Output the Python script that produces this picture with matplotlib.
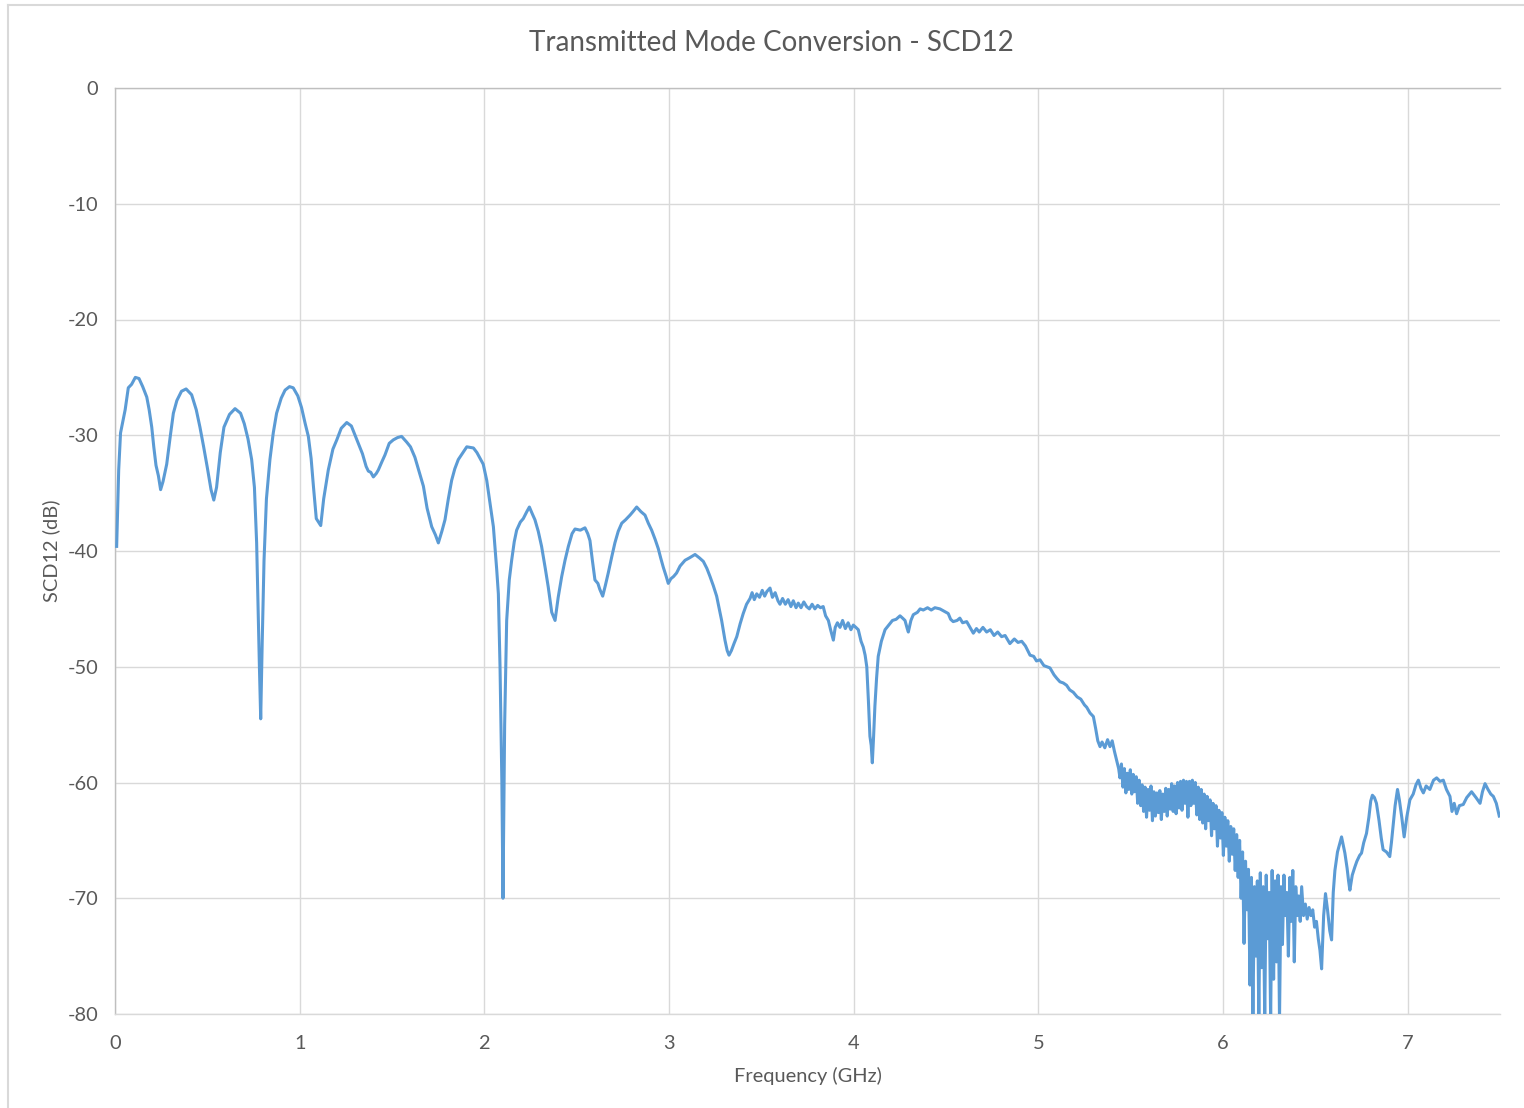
import matplotlib
matplotlib.use("Agg")
import matplotlib.pyplot as plt
from matplotlib.lines import Line2D
import numpy as np

plt.rcParams['font.family'] = ['Lato', 'DejaVu Sans']
plt.rcParams['axes.unicode_minus'] = False

title = "Transmitted Mode Conversion - SCD12"
x_label = "Frequency (GHz)"
y_label = "SCD12 (dB)"
x_ticks = [0, 1, 2, 3, 4, 5, 6, 7]
y_ticks = [0, -10, -20, -30, -40, -50, -60, -70, -80]

# Low band: resonant ripples 0 - 3.44 GHz
freq_low = [0.009, 0.020, 0.030, 0.040, 0.055, 0.072, 0.090, 0.110, 0.130, 0.150,
            0.172, 0.185, 0.199, 0.210, 0.222, 0.235, 0.247, 0.260, 0.280, 0.300,
            0.316, 0.335, 0.360, 0.385, 0.415, 0.440, 0.460, 0.480, 0.500, 0.520,
            0.535, 0.550, 0.570, 0.590, 0.620, 0.650, 0.680, 0.700, 0.720, 0.740,
            0.755, 0.767, 0.775, 0.782, 0.789, 0.797, 0.807, 0.820, 0.839, 0.857,
            0.875, 0.900, 0.921, 0.945, 0.965, 0.990, 1.010, 1.030, 1.047, 1.062,
            1.075, 1.090, 1.114, 1.130, 1.155, 1.180, 1.201, 1.225, 1.255, 1.280,
            1.300, 1.320, 1.340, 1.360, 1.372, 1.385, 1.399, 1.415, 1.426, 1.445,
            1.462, 1.485, 1.507, 1.530, 1.552, 1.580, 1.600, 1.624, 1.648, 1.670,
            1.690, 1.715, 1.735, 1.751, 1.770, 1.787, 1.805, 1.823, 1.840, 1.859,
            1.880, 1.905, 1.941, 1.960, 1.977, 1.994, 2.013, 2.031, 2.049, 2.067,
            2.076, 2.085, 2.095, 2.101, 2.110, 2.121, 2.135, 2.148, 2.162, 2.175,
            2.195, 2.211, 2.230, 2.244, 2.260, 2.274, 2.292, 2.310, 2.330, 2.346,
            2.365, 2.383, 2.400, 2.419, 2.437, 2.455, 2.475, 2.491, 2.520, 2.545,
            2.560, 2.572, 2.585, 2.599, 2.615, 2.625, 2.641, 2.655, 2.671, 2.690,
            2.707, 2.725, 2.744, 2.765, 2.789, 2.805, 2.825, 2.848, 2.870, 2.888,
            2.906, 2.925, 2.942, 2.955, 2.969, 2.985, 2.996, 3.010, 3.025, 3.041,
            3.060, 3.087, 3.110, 3.141, 3.165, 3.186, 3.205, 3.222, 3.240, 3.258,
            3.272, 3.285, 3.303, 3.315, 3.325, 3.338, 3.352, 3.367, 3.385, 3.402,
            3.420, 3.439]
db_low = [-39.6, -33.0, -29.8, -29.0, -27.8, -25.9, -25.6, -25.0, -25.1, -25.8,
          -26.7, -27.8, -29.3, -31.0, -32.6, -33.5, -34.7, -34.0, -32.5, -30.0,
          -28.1, -27.0, -26.2, -26.0, -26.5, -27.8, -29.3, -31.0, -32.8, -34.7,
          -35.6, -34.5, -31.5, -29.3, -28.2, -27.7, -28.1, -29.0, -30.3, -32.1,
          -34.5, -39.3, -45.0, -50.0, -54.5, -48.0, -40.8, -35.5, -32.1, -29.8,
          -28.1, -26.8, -26.1, -25.8, -25.9, -26.6, -27.6, -29.0, -30.1, -32.0,
          -34.5, -37.2, -37.8, -35.5, -33.0, -31.2, -30.4, -29.4, -28.9, -29.2,
          -30.0, -30.8, -31.6, -32.7, -33.1, -33.2, -33.6, -33.3, -33.0, -32.3,
          -31.7, -30.7, -30.4, -30.2, -30.1, -30.6, -31.0, -31.9, -33.2, -34.4,
          -36.3, -37.9, -38.6, -39.3, -38.3, -37.3, -35.5, -33.9, -32.9, -32.1,
          -31.6, -31.0, -31.1, -31.5, -32.0, -32.5, -33.9, -35.9, -37.9, -41.6,
          -43.7, -50.0, -60.0, -70.0, -55.0, -46.0, -42.5, -40.8, -39.2, -38.2,
          -37.5, -37.2, -36.6, -36.2, -36.8, -37.3, -38.3, -39.6, -41.5, -43.1,
          -45.3, -46.0, -44.0, -42.2, -40.8, -39.6, -38.5, -38.1, -38.2, -38.0,
          -38.5, -39.1, -40.8, -42.5, -42.8, -43.3, -43.9, -43.0, -41.9, -40.5,
          -39.3, -38.3, -37.6, -37.3, -36.9, -36.6, -36.2, -36.6, -36.9, -37.6,
          -38.2, -39.0, -39.8, -40.6, -41.4, -42.2, -42.8, -42.4, -42.2, -41.9,
          -41.3, -40.8, -40.6, -40.3, -40.6, -40.9, -41.5, -42.2, -43.0, -43.9,
          -45.0, -46.0, -47.7, -48.6, -49.0, -48.6, -48.0, -47.4, -46.3, -45.4,
          -44.6, -44.1]

# Mid band: 3.45 - 5.44 GHz
freq_mid = [3.450, 3.462, 3.475, 3.490, 3.505, 3.518, 3.530, 3.547, 3.560, 3.575,
            3.590, 3.601, 3.615, 3.630, 3.645, 3.660, 3.673, 3.688, 3.700, 3.715,
            3.730, 3.745, 3.760, 3.775, 3.790, 3.805, 3.820, 3.835, 3.848, 3.863,
            3.875, 3.890, 3.900, 3.912, 3.926, 3.940, 3.955, 3.970, 3.985, 3.998,
            4.012, 4.025, 4.040, 4.052, 4.062, 4.071, 4.080, 4.088, 4.095, 4.101,
            4.108, 4.115, 4.124, 4.133, 4.150, 4.170, 4.190, 4.210, 4.230, 4.251,
            4.265, 4.278, 4.290, 4.296, 4.310, 4.323, 4.345, 4.360, 4.377, 4.400,
            4.420, 4.440, 4.467, 4.490, 4.512, 4.525, 4.539, 4.560, 4.575, 4.590,
            4.612, 4.630, 4.648, 4.665, 4.680, 4.700, 4.720, 4.740, 4.760, 4.780,
            4.801, 4.820, 4.846, 4.870, 4.890, 4.910, 4.930, 4.955, 4.975, 4.990,
            5.009, 5.030, 5.063, 5.085, 5.100, 5.117, 5.135, 5.153, 5.170, 5.189,
            5.210, 5.230, 5.250, 5.262, 5.280, 5.298, 5.310, 5.322, 5.334, 5.345,
            5.360, 5.375, 5.388, 5.400, 5.412, 5.424, 5.435, 5.442]
db_mid = [-43.6, -44.2, -43.7, -44.0, -43.4, -43.9, -43.5, -43.2, -44.0, -43.6,
          -44.3, -44.6, -44.1, -44.6, -44.2, -44.8, -44.3, -44.9, -44.5, -44.9,
          -44.4, -44.8, -45.0, -44.6, -45.0, -44.7, -44.9, -44.8, -45.6, -46.0,
          -46.8, -47.7, -46.6, -46.2, -46.6, -46.0, -46.7, -46.2, -46.8, -46.4,
          -46.6, -46.8, -47.8, -48.3, -49.0, -50.0, -53.0, -56.0, -56.8, -58.3,
          -56.0, -53.4, -51.0, -49.1, -47.8, -46.8, -46.4, -46.0, -45.9, -45.6,
          -45.8, -46.0, -46.7, -47.0, -46.0, -45.5, -45.3, -45.0, -45.1, -44.9,
          -45.1, -44.9, -45.0, -45.2, -45.4, -45.9, -46.1, -46.0, -45.8, -46.2,
          -46.1, -46.6, -47.1, -46.7, -47.0, -46.6, -47.0, -46.8, -47.3, -47.0,
          -47.4, -47.3, -48.0, -47.6, -47.9, -47.8, -48.2, -49.0, -49.1, -49.5,
          -49.4, -49.9, -50.1, -50.7, -51.0, -51.3, -51.4, -51.6, -52.0, -52.2,
          -52.6, -52.8, -53.3, -53.5, -54.0, -54.3, -55.3, -56.4, -56.9, -56.5,
          -57.0, -56.3, -56.9, -56.4, -57.3, -58.1, -58.8, -59.6]

# High band: noisy 5.45 - 7.5 GHz
freq_high = [5.450, 5.458, 5.466, 5.474, 5.482, 5.490, 5.498, 5.506, 5.514, 5.522,
             5.530, 5.538, 5.546, 5.554, 5.562, 5.570, 5.578, 5.586, 5.594, 5.602,
             5.610, 5.618, 5.626, 5.634, 5.642, 5.650, 5.658, 5.666, 5.674, 5.682,
             5.690, 5.698, 5.706, 5.714, 5.722, 5.730, 5.738, 5.746, 5.754, 5.762,
             5.770, 5.778, 5.786, 5.794, 5.802, 5.810, 5.818, 5.826, 5.834, 5.842,
             5.850, 5.858, 5.866, 5.874, 5.882, 5.890, 5.898, 5.906, 5.914, 5.922,
             5.930, 5.938, 5.946, 5.954, 5.962, 5.970, 5.978, 5.986, 5.994, 6.002,
             6.010, 6.018, 6.026, 6.034, 6.042, 6.050, 6.058, 6.066, 6.074, 6.082,
             6.090, 6.098, 6.106, 6.114, 6.122, 6.130, 6.138, 6.146, 6.154, 6.162,
             6.170, 6.178, 6.186, 6.194, 6.202, 6.210, 6.218, 6.226, 6.234, 6.242,
             6.250, 6.258, 6.266, 6.274, 6.282, 6.290, 6.298, 6.306, 6.314, 6.322,
             6.330, 6.338, 6.346, 6.354, 6.362, 6.370, 6.378, 6.386, 6.394, 6.402,
             6.410, 6.418, 6.426, 6.436, 6.446, 6.456, 6.466, 6.476, 6.486, 6.496,
             6.506, 6.516, 6.525, 6.534, 6.545, 6.555, 6.566, 6.578, 6.588, 6.597,
             6.606, 6.620, 6.630, 6.642, 6.652, 6.660, 6.672, 6.680, 6.687, 6.700,
             6.714, 6.725, 6.740, 6.750, 6.762, 6.777, 6.790, 6.800, 6.809, 6.820,
             6.831, 6.845, 6.857, 6.867, 6.885, 6.903, 6.912, 6.921, 6.932, 6.945,
             6.955, 6.968, 6.981, 6.995, 7.012, 7.030, 7.045, 7.058, 7.072, 7.085,
             7.100, 7.120, 7.140, 7.157, 7.175, 7.193, 7.210, 7.229, 7.240, 7.252,
             7.265, 7.280, 7.301, 7.320, 7.346, 7.370, 7.392, 7.405, 7.419, 7.435,
             7.450, 7.464, 7.480, 7.496]
db_high = [-58.4, -60.4, -58.8, -60.9, -59.2, -60.6, -58.9, -61.0, -59.3, -60.8,
           -59.5, -61.8, -59.8, -62.0, -60.2, -62.5, -60.4, -63.0, -60.6, -62.4,
           -60.3, -63.3, -60.8, -62.9, -60.9, -62.6, -60.7, -63.2, -61.0, -62.5,
           -60.5, -62.9, -60.6, -62.3, -60.1, -62.5, -60.3, -62.7, -60.0, -62.2,
           -59.9, -62.4, -59.8, -61.8, -59.9, -63.0, -59.9, -62.0, -59.8, -61.8,
           -60.0, -62.8, -60.4, -63.2, -60.6, -63.5, -61.0, -64.0, -61.2, -63.3,
           -61.5, -64.6, -61.8, -64.0, -62.0, -65.5, -62.4, -64.8, -62.6, -66.3,
           -63.0, -65.5, -63.3, -66.8, -63.8, -66.2, -64.0, -67.6, -64.5, -68.2,
           -65.0, -70.0, -66.0, -73.9, -66.8, -71.0, -67.5, -77.5, -68.2, -80.5,
           -69.0, -75.0, -68.5, -80.5, -67.8, -76.0, -69.0, -80.5, -68.0, -73.5,
           -69.5, -80.5, -67.6, -77.0, -68.5, -75.5, -68.0, -80.5, -69.0, -74.0,
           -68.0, -71.5, -69.5, -75.0, -68.2, -72.0, -67.6, -75.5, -69.0, -71.5,
           -69.8, -72.0, -69.0, -71.5, -70.5, -71.8, -70.8, -71.5, -71.0, -72.5,
           -72.0, -73.5, -74.5, -76.1, -71.5, -69.6, -71.0, -72.8, -73.6, -69.5,
           -67.6, -66.0, -65.4, -64.7, -65.5, -66.1, -67.4, -68.5, -69.3, -68.0,
           -67.3, -66.8, -66.3, -66.1, -65.2, -64.4, -63.0, -61.6, -61.1, -61.3,
           -61.8, -63.3, -64.8, -65.8, -66.0, -66.4, -65.2, -63.8, -62.0, -60.6,
           -61.5, -63.0, -64.7, -63.0, -61.5, -61.0, -60.2, -59.8, -60.5, -60.9,
           -60.3, -60.6, -59.8, -59.6, -59.9, -59.8, -60.6, -61.2, -62.5, -61.8,
           -62.7, -62.0, -61.9, -61.3, -60.8, -61.3, -61.8, -60.8, -60.1, -60.6,
           -61.0, -61.2, -61.8, -62.9]

freq = np.array(freq_low + freq_mid + freq_high)
db = np.array(db_low + db_mid + db_high)

W, H = 1524, 1108
fig = plt.figure(figsize=(W / 100, H / 100), dpi=100)
ax = fig.add_axes([115 / W, 1 - 1014 / H, (1500 - 115) / W, (1014 - 88) / H])

ax.plot(freq, db, color='#5b9bd5', lw=2.2, solid_joinstyle='round', zorder=3)

ax.set_xlim(0, 7.5)
ax.set_ylim(-80, 0)
ax.set_xticks(x_ticks)
ax.set_xticklabels([str(t) for t in x_ticks])
ax.set_yticks(y_ticks)
ax.set_yticklabels([str(t) for t in y_ticks])
ax.tick_params(axis='both', length=0, labelsize=14.4, labelcolor='#595959')
ax.tick_params(axis='y', pad=12)
ax.tick_params(axis='x', pad=15)
ax.grid(True, color='#d9d9d9', lw=1.0, zorder=0)
ax.set_axisbelow(True)
ax.spines['right'].set_visible(False)
ax.spines['top'].set_color('#bfbfbf')
ax.spines['left'].set_color('#bfbfbf')
ax.spines['bottom'].set_color('#d9d9d9')
for s in ['top', 'left', 'bottom']:
    ax.spines[s].set_linewidth(1.0)

ax.set_xlabel(x_label, fontsize=14.4, color='#595959', labelpad=11)
ax.set_ylabel(y_label, fontsize=14.4, color='#595959', labelpad=5)

fig.text(771 / W, 1 - 43 / H, title, fontsize=20, color='#595959',
         ha='center', va='center')

# outer chart border
fig.add_artist(Line2D([8 / W, 8 / W], [0, 1 - 5 / H], transform=fig.transFigure,
                      color='#d9d9d9', lw=1.5))
fig.add_artist(Line2D([8 / W, 1], [1 - 5 / H, 1 - 5 / H], transform=fig.transFigure,
                      color='#d9d9d9', lw=1.5))

fig.savefig('out.png', dpi=100, facecolor='white')
